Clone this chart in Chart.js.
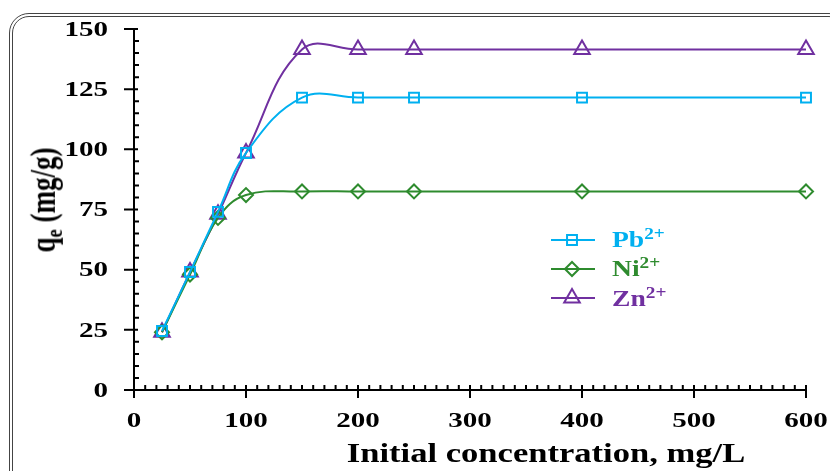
<!DOCTYPE html>
<html lang="en">
<head>
  <meta charset="UTF-8" />
  <title>qe vs initial concentration</title>
  <script src="https://cdn.jsdelivr.net/npm/chart.js"></script>
  <style>
    html, body { margin: 0; padding: 0; background: #fff; overflow: hidden; }
    #wrap { position: relative; width: 830px; height: 471px; font-family: "Liberation Serif", "Times New Roman", serif; font-weight: bold; }
    #frame { position: absolute; left: 9px; top: 13px; width: 840px; height: 490px; border: 4px double #444; border-radius: 20px; box-sizing: border-box; }
    canvas { position: absolute; left: 0; top: 0; }
    .ytitle { position: absolute; left: 44px; top: 200px; transform: translate(-50%, -50%) rotate(-90deg) scaleY(1.3); font-size: 27px; line-height: 1; white-space: nowrap; }
    .xtitle { position: absolute; left: 546px; top: 440px; transform: translateX(-50%) scaleX(1.28); font-size: 27px; line-height: 1; white-space: nowrap; }
    .legend { position: absolute; left: 551px; top: 225px; }
    .legend div { height: 29.3px; display: flex; align-items: center; font-size: 23px; line-height: 1; }
    .legend canvas { position: static; margin-right: 17px; }
    .legend span { display: inline-block; transform: scaleX(1.2); transform-origin: left center; }
    sup { font-size: 0.7em; vertical-align: 0.5em; line-height: 0; }
    sub { font-size: 0.68em; vertical-align: -0.3em; line-height: 0; }
  </style>
</head>
<body>
<div id="wrap">
  <div id="frame"></div>
  <canvas id="myChart" width="830" height="471"></canvas>
  <div class="ytitle">q<sub>e</sub> (mg/g)</div>
  <div class="xtitle">Initial concentration, mg/L</div>
  <div class="legend" id="legend"></div>
</div>

<script>
  // data
  const concentration = [25, 50, 75, 100, 150, 200, 250, 400, 600];
  const pb = [24.5, 49, 74, 98.5, 121.5, 121.5, 121.5, 121.5, 121.5];
  const ni = [24, 48, 71.5, 81, 82.5, 82.5, 82.5, 82.5, 82.5];
  const zn = [24, 49, 73, 98.5, 141.5, 141.5, 141.5, 141.5, 141.5];
  const yTicks = [0, 25, 50, 75, 100, 125, 150];
  const xTicks = [0, 100, 200, 300, 400, 500, 600];

  const series = [
    { name: 'Pb', values: pb, color: '#00B0F0', style: 'rect', radius: 7 },
    { name: 'Ni', values: ni, color: '#2E8B2E', style: 'rectRot', radius: 7 },
    { name: 'Zn', values: zn, color: '#7030A0', style: 'triangle', radius: 9 }
  ];

  // axis lines, outward major / inward minor ticks, stretched serif labels
  const axisTicks = {
    id: 'axisTicks',
    beforeDatasetsDraw(chart) {
      const ctx = chart.ctx;
      const x = chart.scales.x, y = chart.scales.y;
      const x0 = x.getPixelForValue(0), y0 = y.getPixelForValue(0);
      ctx.save();
      ctx.strokeStyle = '#000';
      ctx.lineWidth = 2;
      ctx.beginPath();
      ctx.moveTo(x0, y.getPixelForValue(150));
      ctx.lineTo(x0, y0);
      ctx.lineTo(x.getPixelForValue(600), y0);
      for (let v = 0; v <= 150; v += 5) {
        const p = y.getPixelForValue(v);
        if (v % 25 === 0) { ctx.moveTo(x0 - 10, p); ctx.lineTo(x0 + 4, p); }
        else { ctx.moveTo(x0, p); ctx.lineTo(x0 + 5, p); }
      }
      for (let v = 0; v <= 600; v += 10) {
        const p = x.getPixelForValue(v);
        if (v % 100 === 0) { ctx.moveTo(p, y0 - 5); ctx.lineTo(p, y0 + 8); }
        else { ctx.moveTo(p, y0); ctx.lineTo(p, y0 - 5); }
      }
      ctx.stroke();

      ctx.fillStyle = '#000';
      ctx.font = 'bold 22px "Liberation Serif"';
      ctx.textBaseline = 'middle';
      ctx.textAlign = 'right';
      yTicks.forEach(v => {
        ctx.save();
        ctx.translate(108, y.getPixelForValue(v) + 1);
        ctx.scale(1.32, 1);
        ctx.fillText(String(v), 0, 0);
        ctx.restore();
      });
      ctx.textBaseline = 'alphabetic';
      ctx.textAlign = 'center';
      xTicks.forEach(v => {
        ctx.save();
        ctx.translate(x.getPixelForValue(v), 427);
        ctx.scale(1.32, 1);
        ctx.fillText(String(v), 0, 0);
        ctx.restore();
      });
      ctx.restore();
    }
  };

  const ctx = document.getElementById('myChart').getContext('2d');
  new Chart(ctx, {
    type: 'line',
    data: {
      datasets: series.map(s => ({
        label: s.name,
        data: concentration.map((c, i) => ({ x: c, y: s.values[i] })),
        borderColor: s.color,
        backgroundColor: 'rgba(0,0,0,0)',
        borderWidth: 2,
        pointStyle: s.style,
        pointRadius: s.radius,
        pointBorderWidth: 2,
        pointBorderColor: s.color,
        pointBackgroundColor: 'rgba(0,0,0,0)',
        tension: 0.4,
        fill: false,
        clip: false
      }))
    },
    options: {
      responsive: false,
      animation: false,
      layout: { padding: { left: 0, top: 29, right: 24, bottom: 0 } },
      plugins: { legend: { display: false }, tooltip: { enabled: false } },
      scales: {
        x: {
          type: 'linear', min: 0, max: 600,
          afterFit: s => { s.height = 81; s.paddingLeft = 0; s.paddingRight = 0; },
          grid: { display: false, drawTicks: false },
          border: { display: false },
          ticks: { display: false }
        },
        y: {
          type: 'linear', min: 0, max: 150,
          afterFit: s => { s.width = 134; s.paddingTop = 0; s.paddingBottom = 0; },
          grid: { display: false, drawTicks: false },
          border: { display: false },
          ticks: { display: false }
        }
      }
    },
    plugins: [axisTicks]
  });

  // legend with line + marker samples
  const legend = document.getElementById('legend');
  series.forEach(s => {
    const row = document.createElement('div');
    const c = document.createElement('canvas');
    c.width = 44; c.height = 22;
    const g = c.getContext('2d');
    g.strokeStyle = s.color; g.lineWidth = 2;
    g.beginPath(); g.moveTo(0, 11); g.lineTo(44, 11); g.stroke();
    g.fillStyle = 'rgba(0,0,0,0)';
    Chart.helpers.drawPoint(g, { pointStyle: s.style, radius: s.radius, borderWidth: 2, rotation: 0 }, 21, 11);
    row.appendChild(c);
    const t = document.createElement('span');
    t.style.color = s.color;
    t.innerHTML = s.name + '<sup>2+</sup>';
    row.appendChild(t);
    legend.appendChild(row);
  });
</script>
</body>
</html>
